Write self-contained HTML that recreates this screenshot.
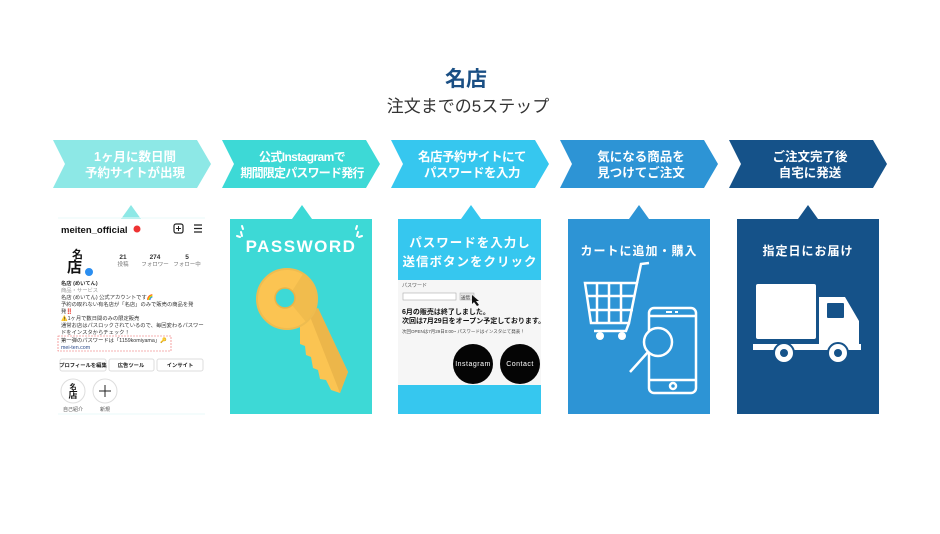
<!DOCTYPE html>
<html><head><meta charset="utf-8"><style>
html,body{margin:0;padding:0;background:#fff;}
body{width:940px;height:529px;overflow:hidden;font-family:"Liberation Sans","Noto Sans CJK JP",sans-serif;}
svg text{font-family:"Liberation Sans","Noto Sans CJK JP",sans-serif;}
</style></head><body>
<svg width="940" height="529" viewBox="0 0 940 529" xmlns="http://www.w3.org/2000/svg">
<rect width="940" height="529" fill="#fff"/>
<text x="466" y="86" text-anchor="middle" font-size="21" font-weight="bold" fill="#1a4f84">名店</text>
<text x="468" y="112" text-anchor="middle" font-size="17" fill="#333">注文までの5ステップ</text>

<!-- arrows -->
<g font-size="12.5" font-weight="bold" fill="#fff" text-anchor="middle">
<polygon points="53,140 197,140 211,164 197,188 53,188 65,164" fill="#8de8e6"/>
<text x="135" y="161">1ヶ月に数日間</text><text x="135" y="177">予約サイトが出現</text>
<polygon points="222,140 366,140 380,164 366,188 222,188 234,164" fill="#3dd9d6"/>
<text x="302" y="161" font-size="12" letter-spacing="-0.6">公式Instagramで</text><text x="302" y="177" font-size="12" letter-spacing="-0.8">期間限定パスワード発行</text>
<polygon points="391,140 535,140 549,164 535,188 391,188 403,164" fill="#36c7ef"/>
<text x="472" y="161" letter-spacing="-0.5">名店予約サイトにて</text><text x="472" y="177" letter-spacing="-0.5">パスワードを入力</text>
<polygon points="560,140 704,140 718,164 704,188 560,188 572,164" fill="#2d94d5"/>
<text x="641" y="161">気になる商品を</text><text x="641" y="177">見つけてご注文</text>
<polygon points="729,140 873,140 887,164 873,188 729,188 741,164" fill="#155289"/>
<text x="810" y="161">ご注文完了後</text><text x="810" y="177">自宅に発送</text>
</g>

<!-- panel 1 instagram -->
<polygon points="121,219 131,205 141,219" fill="#8de8e6"/>
<rect x="55" y="219" width="150" height="195" fill="#fff"/>
<line x1="58" y1="218" x2="205" y2="218" stroke="#eafafa"/>
<text x="61" y="233" font-size="9.5" font-weight="bold" fill="#111">meiten_official</text>
<circle cx="137" cy="229" r="3.5" fill="#e33"/>
<rect x="174" y="224" width="9" height="9" rx="2" fill="none" stroke="#222" stroke-width="1.2"/>
<path d="M178.5 226v5M176 228.5h5" stroke="#222" stroke-width="1"/>
<path d="M194 225h8M194 228.5h8M194 232h8" stroke="#222" stroke-width="1.2"/>
<text x="72" y="258" font-size="11" font-weight="bold" fill="#111">名</text>
<text x="67" y="272" font-size="15" font-weight="bold" fill="#111">店</text>
<circle cx="89" cy="272" r="4.5" fill="#2b8ef0" stroke="#fff"/>
<g font-size="5.5" fill="#333" text-anchor="middle">
<text x="123" y="259" font-weight="bold" font-size="6.5">21</text><text x="123" y="266" fill="#777">投稿</text>
<text x="155" y="259" font-weight="bold" font-size="6.5">274</text><text x="155" y="266" fill="#777">フォロワー</text>
<text x="187" y="259" font-weight="bold" font-size="6.5">5</text><text x="187" y="266" fill="#777">フォロー中</text>
</g>
<g font-size="5.3" fill="#333">
<text x="61" y="285" font-weight="bold">名店 (めいてん)</text>
<text x="61" y="292" fill="#999">商品・サービス</text>
<text x="61" y="299">名店 (めいてん) 公式アカウントです🌈</text>
<text x="61" y="306">予約の取れない有名店が「名店」のみで販売の商品を発</text>
<text x="61" y="313">発‼️</text>
<text x="61" y="320">⚠️1ヶ月で数日間のみの限定販売</text>
<text x="61" y="327">通常お店はパスロックされているので、毎回変わるパスワー</text>
<text x="61" y="334">ドをインスタからチェック！</text>
<text x="61" y="342">第一弾のパスワードは「1159komiyama」🔑</text>
<text x="61" y="349" fill="#2a4a8a">mei-ten.com</text>
</g>
<rect x="58" y="336" width="113" height="15" fill="none" stroke="#e66" stroke-width="0.6" stroke-dasharray="2,1"/>
<g font-size="5.3" font-weight="bold" fill="#222" text-anchor="middle">
<rect x="60" y="359" width="46" height="12" rx="2" fill="#fff" stroke="#ddd"/><text x="83" y="367">プロフィールを編集</text>
<rect x="109" y="359" width="45" height="12" rx="2" fill="#fff" stroke="#ddd"/><text x="131" y="367">広告ツール</text>
<rect x="157" y="359" width="46" height="12" rx="2" fill="#fff" stroke="#ddd"/><text x="180" y="367">インサイト</text>
</g>
<circle cx="73" cy="391" r="12" fill="#fff" stroke="#ddd"/>
<text x="73" y="389" font-size="7" font-weight="bold" text-anchor="middle" fill="#111">名</text>
<text x="73" y="398" font-size="9" font-weight="bold" text-anchor="middle" fill="#111">店</text>
<circle cx="105" cy="391" r="12" fill="#fff" stroke="#ddd"/>
<path d="M105 385v12M99 391h12" stroke="#222" stroke-width="1"/>
<text x="73" y="411" font-size="5" text-anchor="middle" fill="#555">自己紹介</text>
<text x="105" y="411" font-size="5" text-anchor="middle" fill="#555">新規</text>
<line x1="58" y1="414" x2="205" y2="414" stroke="#eafafa"/>

<!-- panel 2 key -->
<polygon points="292,219 302,205 312,219" fill="#3dd9d6"/>
<rect x="230" y="219" width="142" height="195" fill="#3dd9d6"/>
<text x="301" y="252" text-anchor="middle" font-size="17" font-weight="bold" fill="#fff" letter-spacing="1.5">PASSWORD</text>
<path d="M241 232l1 4M237 236l3 1M243 229l-1 -3" stroke="#fff" stroke-width="2" stroke-linecap="round"/>
<path d="M358 232l-1 4M362 236l-3 1M356 229l1 -3" stroke="#fff" stroke-width="2" stroke-linecap="round"/>
<polygon points="300,318 318,308 348,372 340,393 331,390 326,380 320,379 318,370 313,368 311,357 306,355 305,346 300,344" fill="#fbc452"/>
<polygon points="309,314 318,308 348,372 340,393" fill="#ecb64a"/>
<circle cx="287" cy="299" r="30" fill="#fbc452" stroke="#eebc50" stroke-width="2"/>
<path d="M287 299 L306 322 A30 30 0 0 0 303 274 Z" fill="#efba4c" opacity="0.8"/>
<circle cx="285" cy="298" r="10" fill="#3dd9d6" stroke="#e9b448" stroke-width="1.5"/>

<!-- panel 3 -->
<polygon points="461,219 471,205 481,219" fill="#36c7ef"/>
<rect x="398" y="219" width="143" height="195" fill="#36c7ef"/>
<rect x="398" y="280" width="143" height="105" fill="#f6f6f6"/>
<text x="470" y="247" text-anchor="middle" font-size="12.5" font-weight="bold" fill="#fff" letter-spacing="1">パスワードを入力し</text>
<text x="470" y="266" text-anchor="middle" font-size="12.5" font-weight="bold" fill="#fff" letter-spacing="1">送信ボタンをクリック</text>
<text x="402" y="287" font-size="5" fill="#555">パスワード</text>
<rect x="403" y="293" width="53" height="7" fill="#fff" stroke="#aaa" stroke-width="0.6"/>
<rect x="460" y="293" width="14" height="7" fill="#e6e6e6" stroke="#aaa" stroke-width="0.5"/>
<text x="461" y="299" font-size="4.5" fill="#333">送信</text>
<path d="M472 295 l0 9 2 -2 3 4 2 -1 -3 -4 3 0z" fill="#111"/>
<text x="402" y="314" font-size="7" font-weight="bold" fill="#111">6月の販売は終了しました。</text>
<text x="402" y="323" font-size="7" font-weight="bold" fill="#111">次回は7月29日をオープン予定しております。</text>
<text x="402" y="333" font-size="4.5" fill="#444">次回OPENは7月29日0:00~ パスワードはインスタにて発表！</text>
<circle cx="473" cy="364" r="20" fill="#050505"/>
<circle cx="520" cy="364" r="20" fill="#050505"/>
<text x="473" y="366" text-anchor="middle" font-size="7" fill="#fff" letter-spacing="0.5">Instagram</text>
<text x="520" y="366" text-anchor="middle" font-size="7" fill="#fff" letter-spacing="0.5">Contact</text>

<!-- panel 4 -->
<polygon points="629,219 639,205 649,219" fill="#2d94d5"/>
<rect x="568" y="219" width="142" height="195" fill="#2d94d5"/>
<text x="639" y="255" text-anchor="middle" font-size="12" font-weight="bold" fill="#fff" letter-spacing="1">カートに追加・購入</text>
<g fill="none" stroke="#fff" stroke-width="2.5">
<path d="M585 283h52l-8 40h-38z"/>
<path d="M597 283v40M609 283v40M621 283v40M588 296h47M590 310h43"/>
<path d="M637 283l4 -19 8 -1M629 323l-3 8h-32"/>
<rect x="649" y="308" width="47" height="85" rx="5"/>
<path d="M650 316h45M650 380h45"/>
<circle cx="673" cy="386" r="3"/>
<circle cx="658" cy="342" r="14" fill="#2d94d5"/>
<path d="M648 352l-18 20"/>
</g>
<circle cx="600" cy="336" r="4" fill="#fff"/><circle cx="622" cy="336" r="4" fill="#fff"/>
<rect x="666" y="311" width="6" height="2" fill="#fff"/><rect x="675" y="311" width="3" height="2" fill="#fff"/>

<!-- panel 5 -->
<polygon points="798,219 808,205 818,219" fill="#155289"/>
<rect x="737" y="219" width="142" height="195" fill="#155289"/>
<text x="808" y="255" text-anchor="middle" font-size="12" font-weight="bold" fill="#fff" letter-spacing="1">指定日にお届け</text>
<rect x="756" y="284" width="60" height="55" rx="2" fill="#fff"/>
<path d="M819 297h26l14 24v24h-40z" fill="#fff"/>
<rect x="827" y="303" width="17" height="15" rx="1" fill="#155289"/>
<rect x="753" y="344" width="108" height="6" fill="#fff"/>
<circle cx="784" cy="353" r="10" fill="#fff" stroke="#155289" stroke-width="2"/>
<circle cx="784" cy="353" r="4" fill="#155289"/>
<circle cx="838" cy="353" r="10" fill="#fff" stroke="#155289" stroke-width="2"/>
<circle cx="838" cy="353" r="4" fill="#155289"/>
</svg>
</body></html>
